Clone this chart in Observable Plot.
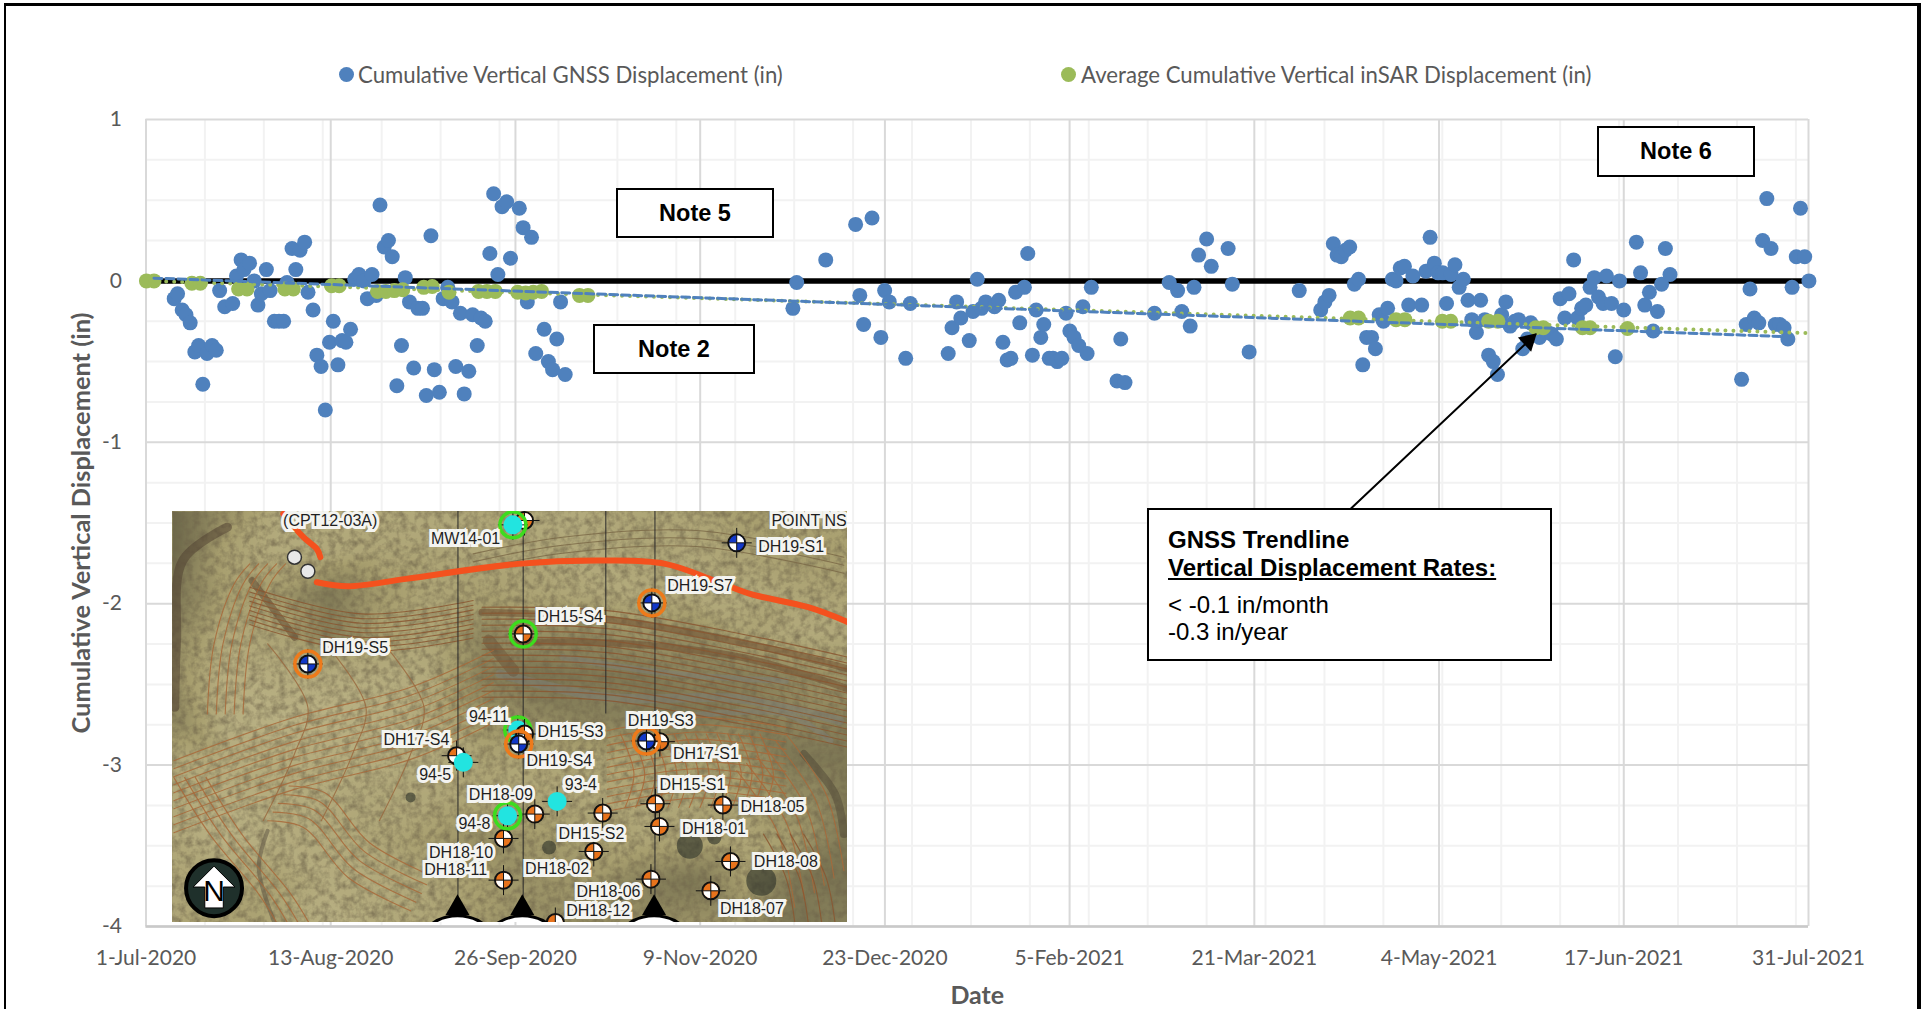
<!DOCTYPE html>
<html>
<head>
<meta charset="utf-8">
<script src="https://cdn.jsdelivr.net/npm/d3@7"></script>
<script src="https://cdn.jsdelivr.net/npm/@observablehq/plot@0.6"></script>
<style>
html,body{margin:0;padding:0;background:#fff;overflow:hidden}
#page{position:relative;width:1925px;height:1009px;overflow:hidden}
#page>*{position:absolute}
.edge{background:#000}
.note{box-sizing:border-box;border:2px solid #000;background:#fff;font:bold 23.5px "Liberation Sans",Arial,sans-serif;color:#000;display:flex;align-items:center;justify-content:center}
.call{box-sizing:border-box;border:2px solid #000;background:#fff;font:24px/1 "Liberation Sans",Arial,sans-serif;color:#000}
.call div{position:absolute;left:19px;white-space:nowrap}
.leg{font:22.2px Lato,sans-serif;color:#595959;white-space:nowrap;line-height:24px}
.swatch{width:15px;height:15px;border-radius:50%}
</style>
</head>
<body>
<div id="page"></div>
<script>
// Days since 1-Jul-2020 and cumulative vertical displacement (in)
const gnssDay = [6.7,7.5,8.6,9.5,10.5,11.6,12.5,13.5,14.5,15.7,16.7,17.5,18.7,20.6,21.5,22.6,23.3,24.6,25.7,26.6,27.4,28.6,29.5,30.5,31.6,32.7,33.5,34.7,35.6,36.6,37.7,38.5,39.7,40.6,41.6,42.6,43.6,44.5,45.6,46.6,47.5,48.6,49.6,50.6,51.8,52.6,53.7,54.7,55.6,56.6,57.6,58.5,59.6,60.7,61.6,62.6,63.6,64.6,65.7,66.6,67.7,68.5,69.7,70.6,71.7,72.7,73.6,74.7,75.6,76.7,77.6,78.7,79.6,80.6,81.7,82.6,83.6,84.6,85.7,86.6,88.7,89.6,90.6,91.6,92.6,94.6,95.6,96.6,97.6,98.5,99.6,
153.7,154.6,161.5,168.6,169.6,170.5,172.5,174.6,175.5,176.6,180.5,181.6,190.6,191.5,192.6,193.6,195.6,196.5,197.5,198.5,199.5,201.6,202.6,203.6,204.6,205.5,206.6,207.6,208.7,209.5,210.6,211.5,212.6,213.3,214.6,215.5,216.5,217.6,218.6,219.5,220.5,221.6,222.6,223.6,224.6,230.7,231.6,232.6,239.6,243.1,245.1,246.1,248.1,249,250.1,252,253.1,257.1,258.1,262.1,274,279.1,280.1,281.1,282.1,
283,284,285,286,287.1,288.1,289.1,290,291.2,292.1,293,294,295,296.1,297,298,299,300,301,303.1,304.1,305.1,306.1,307,308.1,309,310.1,311,312,313,314.1,315,316.1,317.1,318.1,319,320.1,321.1,322.1,323.1,324.1,325.2,326.1,327.1,328.2,329,331.1,333,334,335.1,336,337.1,338.1,339.2,340.1,341.1,342.1,343.1,344.1,345.1,346.2,347,348.2,349.1,350.1,351.1,354.1,355.1,356.1,357.2,358.1,359.1,360.1,361,362.1,379.1,380.2,381.1,382.1,383.2,384.1,385.1,386.1,387.1,388.2,389.2,390.1,391.1,392.1,393.1,394.1,395.1];
const gnssValue = [-0.11,-0.08,-0.18,-0.21,-0.26,-0.44,-0.40,-0.64,-0.45,-0.40,-0.43,-0.06,-0.16,-0.14,0.03,0.13,0.07,0.11,0,-0.15,-0.08,0.07,-0.06,-0.25,-0.25,-0.25,-0.01,0.20,0.07,0.19,0.24,-0.07,-0.18,-0.46,-0.53,-0.80,-0.38,-0.25,-0.52,-0.37,-0.38,-0.30,0.01,0.04,0,-0.11,0.04,-0.09,0.47,0.21,0.25,0.15,-0.65,-0.40,0.02,-0.13,-0.54,-0.17,-0.17,-0.71,0.28,-0.55,-0.69,-0.11,-0.04,-0.13,-0.53,-0.20,-0.70,-0.56,-0.21,-0.40,-0.23,-0.25,0.17,0.54,0.04,0.46,0.49,0.14,0.45,0.33,-0.13,0.27,-0.45,-0.30,-0.50,-0.55,-0.36,-0.13,-0.58,
-0.17,-0.01,0.13,0.35,-0.09,-0.27,0.39,-0.35,-0.06,-0.13,-0.48,-0.14,-0.45,-0.29,-0.13,-0.23,-0.37,-0.19,0.01,-0.17,-0.13,-0.16,-0.12,-0.38,-0.49,-0.48,-0.07,-0.26,-0.04,0.17,-0.46,-0.18,-0.35,-0.27,-0.48,-0.48,-0.50,-0.48,-0.20,-0.31,-0.35,-0.40,-0.16,-0.45,-0.04,-0.62,-0.36,-0.63,-0.20,-0.01,-0.06,-0.19,-0.28,-0.04,0.16,0.26,0.09,0.20,-0.02,-0.44,-0.06,-0.18,-0.13,-0.09,0.23,
0.16,0.15,0.19,0.21,-0.02,0.01,-0.52,-0.35,-0.35,-0.42,-0.21,-0.25,-0.17,0.01,0,0.08,0.09,-0.15,0.03,-0.15,0.06,0.27,0.11,0.05,0.05,-0.14,0.04,0.10,-0.04,0.01,-0.12,-0.24,-0.32,-0.12,-0.24,-0.46,-0.50,-0.58,-0.21,-0.13,-0.28,-0.25,-0.24,-0.42,-0.36,-0.26,-0.35,-0.32,-0.33,-0.36,-0.11,-0.23,-0.08,0.13,-0.23,-0.17,-0.15,-0.04,0.02,-0.10,-0.14,0.03,-0.14,-0.47,0,-0.18,0.24,0.05,-0.15,-0.07,-0.31,-0.19,-0.02,0.20,0.04,-0.61,-0.27,-0.05,-0.23,-0.26,0.25,0.51,0.20,-0.27,-0.27,-0.29,-0.36,-0.04,0.15,0.45,0.15,0];
const insarDay = [0.1,1.9,10.9,12.9,22,24,33,35,44.1,45.9,55,57,59,61,66,68,72,79,81,83,88.3,90.2,92,94,103,105,286.1,288.1,297,299.1,308,310,319,321.2,330.2,332,341.3,343.1,352];
const insarValue = [0,0,-0.015,-0.015,-0.05,-0.05,-0.05,-0.05,-0.03,-0.03,-0.065,-0.065,-0.06,-0.055,-0.04,-0.035,-0.07,-0.065,-0.065,-0.065,-0.07,-0.075,-0.07,-0.065,-0.09,-0.09,-0.23,-0.23,-0.24,-0.24,-0.25,-0.25,-0.25,-0.25,-0.29,-0.29,-0.29,-0.29,-0.295];
const gnssTrendDay = [1.9,389.4];
const gnssTrendValue = [0.017,-0.345];
const insarTrendDay = [1,395];
const insarTrendValue = [0,-0.324];
const xTickDays = [0,43.89,87.78,131.67,175.56,219.44,263.33,307.22,351.11,395];
const xTickLabels = ["1-Jul-2020","13-Aug-2020","26-Sep-2020","9-Nov-2020","23-Dec-2020","5-Feb-2021","21-Mar-2021","4-May-2021","17-Jun-2021","31-Jul-2021"];
const yTicks = [1,0,-1,-2,-3,-4];
const yMinor = [0.75,0.5,0.25,-0.25,-0.5,-0.75,-1.25,-1.5,-1.75,-2.25,-2.5,-2.75,-3.25,-3.5,-3.75];
const xMinor = [14,28,42,56,70,84,98,112,126,140,154,168,182,196,210,224,238,252,266,280,294,308,322,336,350,364,378,392];
const arrowDay = [286.3,330.1];
const arrowValue = [-1.41,-0.333];

// Inset map, in the map's own units
const sites = ["MW14-01*","MW14-01","DH19-S1","DH19-S7","DH15-S4","DH19-S5","94-11","DH15-S3","DH19-S4","DH17-S4","94-5","DH17-S1","DH19-S3","DH18-09","DH18-10*","93-4","DH15-X","DH15-S1","DH18-05","DH18-01","94-8","DH18-11","DH15-S2","DH18-08","DH18-06","DH18-07","DH18-12"];
const siteX = [815,789,1290,1100,812,330,800,815,802,663,678,1118,1088,777,838,888,990,1108,1259,1117,768,768,970,1276,1098,1232,884];
const siteY = [60,73,127,307,400,490,688,700,730,765,785,723,721,945,940,902,937,909,913,977,1013,1138,1052,1082,1135,1170,1265];
const siteKind = ["survey","well","bench","bench","survey","bench","well","survey","bench","survey","well","survey","bench","well","survey","well","survey","survey","survey","survey","survey","survey","survey","survey","survey","survey","survey"];
const siteRing = ["","green","","orange","green","orange","green","","orange","","","","orange","green","","","","","","","","","","","","",""];
const labelText = ["(CPT12-03A)","POINT NS","MW14-01","DH19-S1","DH19-S7","DH15-S4","DH19-S5","94-11","DH15-S3","DH19-S4","DH17-S4","94-5","DH19-S3","DH17-S1","DH18-09","93-4","DH15-S1","DH18-05","DH18-01","94-8","DH15-S2","DH18-10","DH18-11","DH18-02","DH18-08","DH18-06","DH18-07","DH18-12"];
const labelX = [380,1452,683,1412,1208,917,436,735,918,893,573,615,1120,1221,762,941,1191,1370,1239,703,965,673,661,888,1400,1003,1324,980];
const labelY = [62,62,115,138,257,350,442,650,694,781,718,823,661,760,881,851,852,917,983,970,1000,1057,1107,1105,1084,1173,1223,1230];
const roadA = [[275,40],[320,110],[350,145],[358,170]];
const roadB = [[350,245],[420,257],[550,235],[800,190],[1000,180],[1130,190],[1240,240],[1320,280],[1450,320],[1540,365]];
const toneRows = [
 [.22,.42,.6,.62,.6,.6,.56,.6,.6,.56,.56,.5,.55,.55],
 [.22,.52,.6,.58,.56,.56,.6,.58,.6,.56,.58,.55,.5,.5],
 [.28,.5,.48,.32,.48,.56,.52,.55,.58,.6,.6,.6,.56,.55],
 [.36,.6,.55,.34,.52,.56,.38,.42,.38,.44,.4,.54,.6,.6],
 [.42,.64,.62,.62,.62,.6,.34,.28,.3,.3,.36,.34,.38,.46],
 [.36,.64,.66,.66,.64,.6,.46,.4,.36,.34,.3,.34,.38,.34],
 [.58,.62,.62,.62,.62,.6,.55,.56,.55,.54,.5,.46,.3,.3],
 [.6,.64,.62,.6,.58,.58,.56,.58,.58,.58,.56,.52,.42,.32],
 [.58,.66,.62,.6,.56,.5,.42,.48,.5,.56,.52,.56,.48,.3],
 [.56,.56,.54,.62,.6,.58,.5,.44,.46,.36,.3,.5,.3,.28],
 [.56,.52,.54,.66,.6,.56,.48,.42,.4,.42,.44,.46,.28,.34]
];
// Contour bands: a path and how it repeats
const bands = [
 {pts:[[105,640],[120,430],[165,250],[200,190]],n:5,dx:20,dy:0,c:"#a8683a"},
 {pts:[[200,260],[450,340],[700,300]],n:9,dx:0,dy:14,c:"#8a5630"},
 {pts:[[30,780],[300,650],[560,560],[745,450]],n:10,dx:0,dy:24,c:"#a8683a"},
 {pts:[[720,320],[1000,330],[1300,400],[1540,470]],n:16,dx:0,dy:18,c:"#8a5630"},
 {pts:[[1000,690],[1200,650],[1400,680]],n:12,dx:0,dy:22,c:"#a8683a"},
 {pts:[[1030,700],[1060,820],[1040,920]],n:14,dx:24,dy:0,c:"#a8683a"},
 {pts:[[30,830],[110,1000],[220,1180],[260,1265]],n:4,dx:24,dy:0,c:"#a8683a"},
 {pts:[[240,960],[320,980],[420,1130],[560,1230]],n:5,dx:12,dy:-26,c:"#a8683a"},
 {pts:[[240,430],[330,620],[300,760],[230,960]],n:3,dx:130,dy:0,c:"#9a6a40"},
 {pts:[[1400,700],[1490,880],[1530,1110]],n:6,dx:-22,dy:22,c:"#a8683a"},
 {pts:[[1350,1000],[1400,1130],[1420,1265]],n:4,dx:30,dy:0,c:"#8a5630"},
 {pts:[[700,160],[900,110],[1200,90],[1530,170]],n:3,dx:0,dy:24,c:"#7b6a48"}
];
const streaks = [
 {pts:[[720,335],[1000,355],[1300,425],[1540,505]],w:7,c:"#6d4a2c"},
 {pts:[[790,425],[1050,430],[1300,470],[1540,565]],w:7,c:"#6d4a2c"},
 {pts:[[760,520],[1000,590],[1300,595],[1520,660]],w:9,c:"#7d7f78"},
 {pts:[[900,470],[1150,520],[1400,540]],w:6,c:"#7d7f78"},
 {pts:[[205,240],[300,410]],w:7,c:"#5d4630"},
 {pts:[[735,420],[790,510]],w:12,c:"#6a5138"},
 {pts:[[150,80],[50,180],[36,420],[32,620]],w:9,c:"#4b3c2e"},
 {pts:[[255,1265],[220,1100],[240,990]],w:4,c:"#5a5040"},
 {pts:[[1440,760],[1510,880],[1530,1000]],w:8,c:"#4f4836"},
 {pts:[[1150,650],[1400,640],[1500,720]],w:6,c:"#7d7f78"}
];
const leaderX = [666,812,997,1107];
const leaderTop = [33,33,33,33];
const leaderEnd = [1240,1240,640,1240];
const disc = [665,810,1105];
const ponds = [[1185,1035,13],[1345,1140,15],[870,1040,7],[560,890,5],[1030,1180,6],[1240,1010,7]];

const gnss = gnssDay.map((d,i)=>({d,v:gnssValue[i]}));
const insar = insarDay.map((d,i)=>({d,v:insarValue[i]}));
const zip2 = (a,b)=>a.map((d,i)=>({d,v:b[i]}));
const stroke2 = "#d9d9d9", stroke1 = "#f2f2f2";

const chart = Plot.plot({
  width:1925,height:1009,
  marginLeft:145.5,marginRight:117,marginTop:119,marginBottom:83,
  style:{fontFamily:"Lato, sans-serif",background:"transparent",color:"#595959",overflow:"visible"},
  x:{domain:[0,395]},
  y:{domain:[-4,1]},
  marks:[
    Plot.ruleX(xMinor,{stroke:stroke1,strokeWidth:2}),
    Plot.ruleY(yMinor,{stroke:stroke1,strokeWidth:2}),
    Plot.ruleX(xTickDays,{stroke:stroke2,strokeWidth:2}),
    Plot.ruleY(yTicks,{stroke:stroke2,strokeWidth:2}),
    Plot.ruleY([-4],{stroke:"#c9c9c9",strokeWidth:2.5}),
    Plot.axisX({ticks:xTickDays,tickFormat:(d,i)=>xTickLabels[i],tickSize:0,tickPadding:24,fontSize:21,label:null,fill:"#595959"}),
    Plot.axisY({ticks:yTicks,tickFormat:d=>String(d),tickSize:0,tickPadding:24,fontSize:21,label:null,fill:"#595959"}),
    Plot.lineY([0,0],{x:[1,395],y:[0,0],stroke:"#000",strokeWidth:5.5}),
    Plot.dot(gnss,{x:"d",y:"v",r:7.5,fill:"#4f81bd"}),
    Plot.dot(insar,{x:"d",y:"v",r:7.5,fill:"#9bbb59"}),
    Plot.line(zip2(insarTrendDay,insarTrendValue),{x:"d",y:"v",stroke:"#9bbb59",strokeWidth:4,strokeDasharray:"0 8",strokeLinecap:"round"}),
    Plot.line(zip2(gnssTrendDay,gnssTrendValue),{x:"d",y:"v",stroke:"#4f81bd",strokeWidth:3,strokeDasharray:"8 4"}),
    Plot.line(zip2(arrowDay,arrowValue),{x:"d",y:"v",stroke:"#000",strokeWidth:2}),
    Plot.dot([{d:arrowDay[1]-1.6,v:arrowValue[1]-0.038}],{x:"d",y:"v",symbol:"triangle",r:7.2,fill:"#000",rotate:47}),
    Plot.text(["Date"],{frameAnchor:"bottom",dy:77,fontSize:25,fontWeight:"bold",fill:"#595959"}),
    Plot.text(["Cumulative Vertical Displacement (in)"],{frameAnchor:"left",textAnchor:"middle",rotate:-90,dx:-64.5,fontSize:25.4,fontWeight:"bold",fill:"#595959"})
  ]
});

// Inset map
const rows = toneRows.length, cols = toneRows[0].length;
const tones = toneRows.flatMap((r,j)=>r.map((t,i)=>({x:27+(1511*i)/(cols-1),y:33+(1232*j)/(rows-1),t})));
const contours = bands.flatMap((b,bi)=>d3.range(b.n).flatMap(k=>b.pts.map(p=>({x:p[0]+k*b.dx,y:p[1]+k*b.dy,z:bi+"-"+k,c:b.c}))));
const streakRows = streaks.flatMap((s,i)=>s.pts.map(p=>({x:p[0],y:p[1],z:i,c:s.c,w:s.w})));
const siteRows = sites.map((s,i)=>({s,x:siteX[i],y:siteY[i],k:siteKind[i],ring:siteRing[i]}));
const labelRows = labelText.map((t,i)=>({t,x:labelX[i],y:labelY[i]}));
const quarters = {draw(c,size){const r=Math.sqrt(size/Math.PI);c.moveTo(0,0);c.arc(0,0,r,-Math.PI/2,0);c.closePath();c.moveTo(0,0);c.arc(0,0,r,Math.PI/2,Math.PI);c.closePath();}};
const cross = {draw(c,size){const r=Math.sqrt(size/Math.PI);c.moveTo(-r,0);c.lineTo(r,0);c.moveTo(0,-r);c.lineTo(0,r);}};
const northArrow = {draw(c,size){const r=Math.sqrt(size/Math.PI);c.moveTo(0,-r);c.lineTo(r*.95,-r*.05);c.lineTo(r*.42,-r*.05);c.lineTo(r*.42,r*.9);c.lineTo(-r*.42,r*.9);c.lineTo(-r*.42,-r*.05);c.lineTo(-r*.95,-r*.05);c.closePath();}};
const fillFor = {survey:"#e8731c",bench:"#1238c8",well:"#22e4e0"};
const north = [{x:120,y:1162}];
function siteMarks(group){
  const isWell = group[0].k==="well";
  return [
    Plot.dot(group,{x:"x",y:"y",symbol:cross,r:15,stroke:"#111",strokeWidth:1,fill:"none"}),
    Plot.dot(group.filter(d=>d.ring),{x:"x",y:"y",r:13,fill:"none",stroke:d=>d.ring==="green"?"#3ddc1e":"#ee7a1a",strokeWidth:3.5}),
    Plot.dot(group,{x:"x",y:"y",r:isWell?9.5:8.5,fill:d=>fillFor[d.k],stroke:"#111",strokeWidth:isWell?0:2}),
    ...(isWell?[]:[
      Plot.dot(group,{x:"x",y:"y",symbol:quarters,r:7.5,fill:"#fff"}),
      Plot.dot(group,{x:"x",y:"y",symbol:cross,r:8,stroke:"#111",strokeWidth:1,fill:"none"})
    ])
  ];
}
// Mottled ground texture for the photo background
function groundTexture(){
  const ns="http://www.w3.org/2000/svg";
  const g=document.createElementNS(ns,"g");
  g.innerHTML='<defs><filter id="ground" x="0" y="0" width="100%" height="100%"><feTurbulence type="fractalNoise" baseFrequency="0.14" numOctaves="3" seed="4"/><feColorMatrix values="0 0 0 0 0.16  0 0 0 0 0.13  0 0 0 0 0.07  1.9 0 0 0 -0.72"/></filter></defs><rect width="675" height="411" filter="url(#ground)" opacity="0.75"/>';
  return g;
}
const inset = Plot.plot({
  width:675,height:411,margin:0,
  style:{background:"#a59c6c",display:"block",fontFamily:"'Liberation Sans',Arial,sans-serif",overflow:"hidden"},
  x:{domain:[27,1538],range:[0,675],axis:null},
  y:{domain:[33,1265],range:[0,411],axis:null},
  r:{type:"identity"},
  color:{type:"linear",domain:[0,.5,1],range:["#3f3d2e","#a89f6f","#dcd5ae"]},
  marks:[
    Plot.raster(tones,{x:"x",y:"y",fill:"t",interpolate:"barycentric",pixelSize:2}),
    groundTexture,
    Plot.dot(ponds,{x:d=>d[0],y:d=>d[1],r:d=>d[2],fill:"#2c3028",fillOpacity:.6}),
    Plot.line(streakRows,{x:"x",y:"y",z:"z",stroke:"c",strokeWidth:d=>d.w,strokeOpacity:.5,curve:"catmull-rom"}),
    Plot.line(contours,{x:"x",y:"y",z:"z",stroke:"c",strokeWidth:1.1,strokeOpacity:.85,curve:"catmull-rom"}),
    Plot.ruleX(leaderX,{x:d=>d,y1:(d,i)=>leaderTop[i],y2:(d,i)=>leaderEnd[i],stroke:"#2a2a2a",strokeWidth:1}),
    Plot.line(roadA,{x:"0",y:"1",stroke:"#f4511e",strokeWidth:6,strokeLinecap:"round",curve:"catmull-rom"}),
    Plot.line(roadB,{x:"0",y:"1",stroke:"#f4511e",strokeWidth:6,curve:"catmull-rom"}),
    Plot.dot([[300,170],[330,212]],{x:"0",y:"1",r:7,fill:"#e8e8e8",stroke:"#333"}),
    ...siteMarks(siteRows.filter(d=>d.s==="94-11")),
    ...siteMarks(siteRows.filter(d=>d.k==="survey")),
    ...siteMarks(siteRows.filter(d=>d.k==="well"&&d.s!=="94-11")),
    ...siteMarks(siteRows.filter(d=>d.k==="bench")),
    Plot.text(labelRows,{x:"x",y:"y",text:"t",fontSize:16,fill:"#1f1f1f",stroke:"#f4f4f0",strokeWidth:6,strokeLinejoin:"miter"}),
    Plot.dot(disc.map(x=>({x,y:1222})),{x:"x",y:"y",symbol:"triangle",r:9,fill:"#000"}),
    Plot.dot(disc.map(x=>({x,y:1380})),{x:"x",y:"y",r:45,fill:"#fff",stroke:"#000",strokeWidth:3}),
    Plot.dot(north,{x:"x",y:"y",r:28,fill:"#1f302b",stroke:"#000",strokeWidth:4}),
    Plot.dot(north,{x:"x",y:"y",symbol:northArrow,r:22,fill:"#fff",stroke:"#000",strokeWidth:1}),
    Plot.text(north,{x:"x",y:"y",dy:3,text:()=>"N",fontSize:30,fill:"#000"})
  ]
});

const page = document.getElementById("page");
function add(tag,cls,css,html){const e=document.createElement(tag);if(cls)e.className=cls;e.style.cssText=css;if(html!=null)e.innerHTML=html;page.appendChild(e);return e;}
chart.style.left="0";chart.style.top="0";page.appendChild(chart);
inset.style.left="172px";inset.style.top="511px";page.appendChild(inset);
// frame
add("div","edge","left:4px;top:3px;width:1917px;height:3px");
add("div","edge","left:4px;top:3px;width:2px;height:1006px");
add("div","edge","left:1917px;top:3px;width:4px;height:1006px");
// legend
add("div","swatch","left:339px;top:67px;background:#4f81bd");
add("div","leg","left:358px;top:63px","Cumulative Vertical GNSS Displacement (in)");
add("div","swatch","left:1061px;top:67px;background:#9bbb59");
add("div","leg","left:1081px;top:63px","Average Cumulative Vertical inSAR Displacement (in)");
// note boxes
add("div","note","left:616px;top:188px;width:158px;height:50px","Note 5");
add("div","note","left:593px;top:324px;width:162px;height:50px","Note 2");
add("div","note","left:1597px;top:126px;width:158px;height:51px","Note 6");
const call = add("div","call","left:1147px;top:508px;width:405px;height:153px");
call.innerHTML = '<div style="top:18px;font-weight:bold">GNSS Trendline</div><div style="top:46px;font-weight:bold;text-decoration:underline">Vertical Displacement Rates:</div><div style="top:83px">&lt; -0.1 in/month</div><div style="top:110px">-0.3 in/year</div>';
</script>
</body>
</html>
